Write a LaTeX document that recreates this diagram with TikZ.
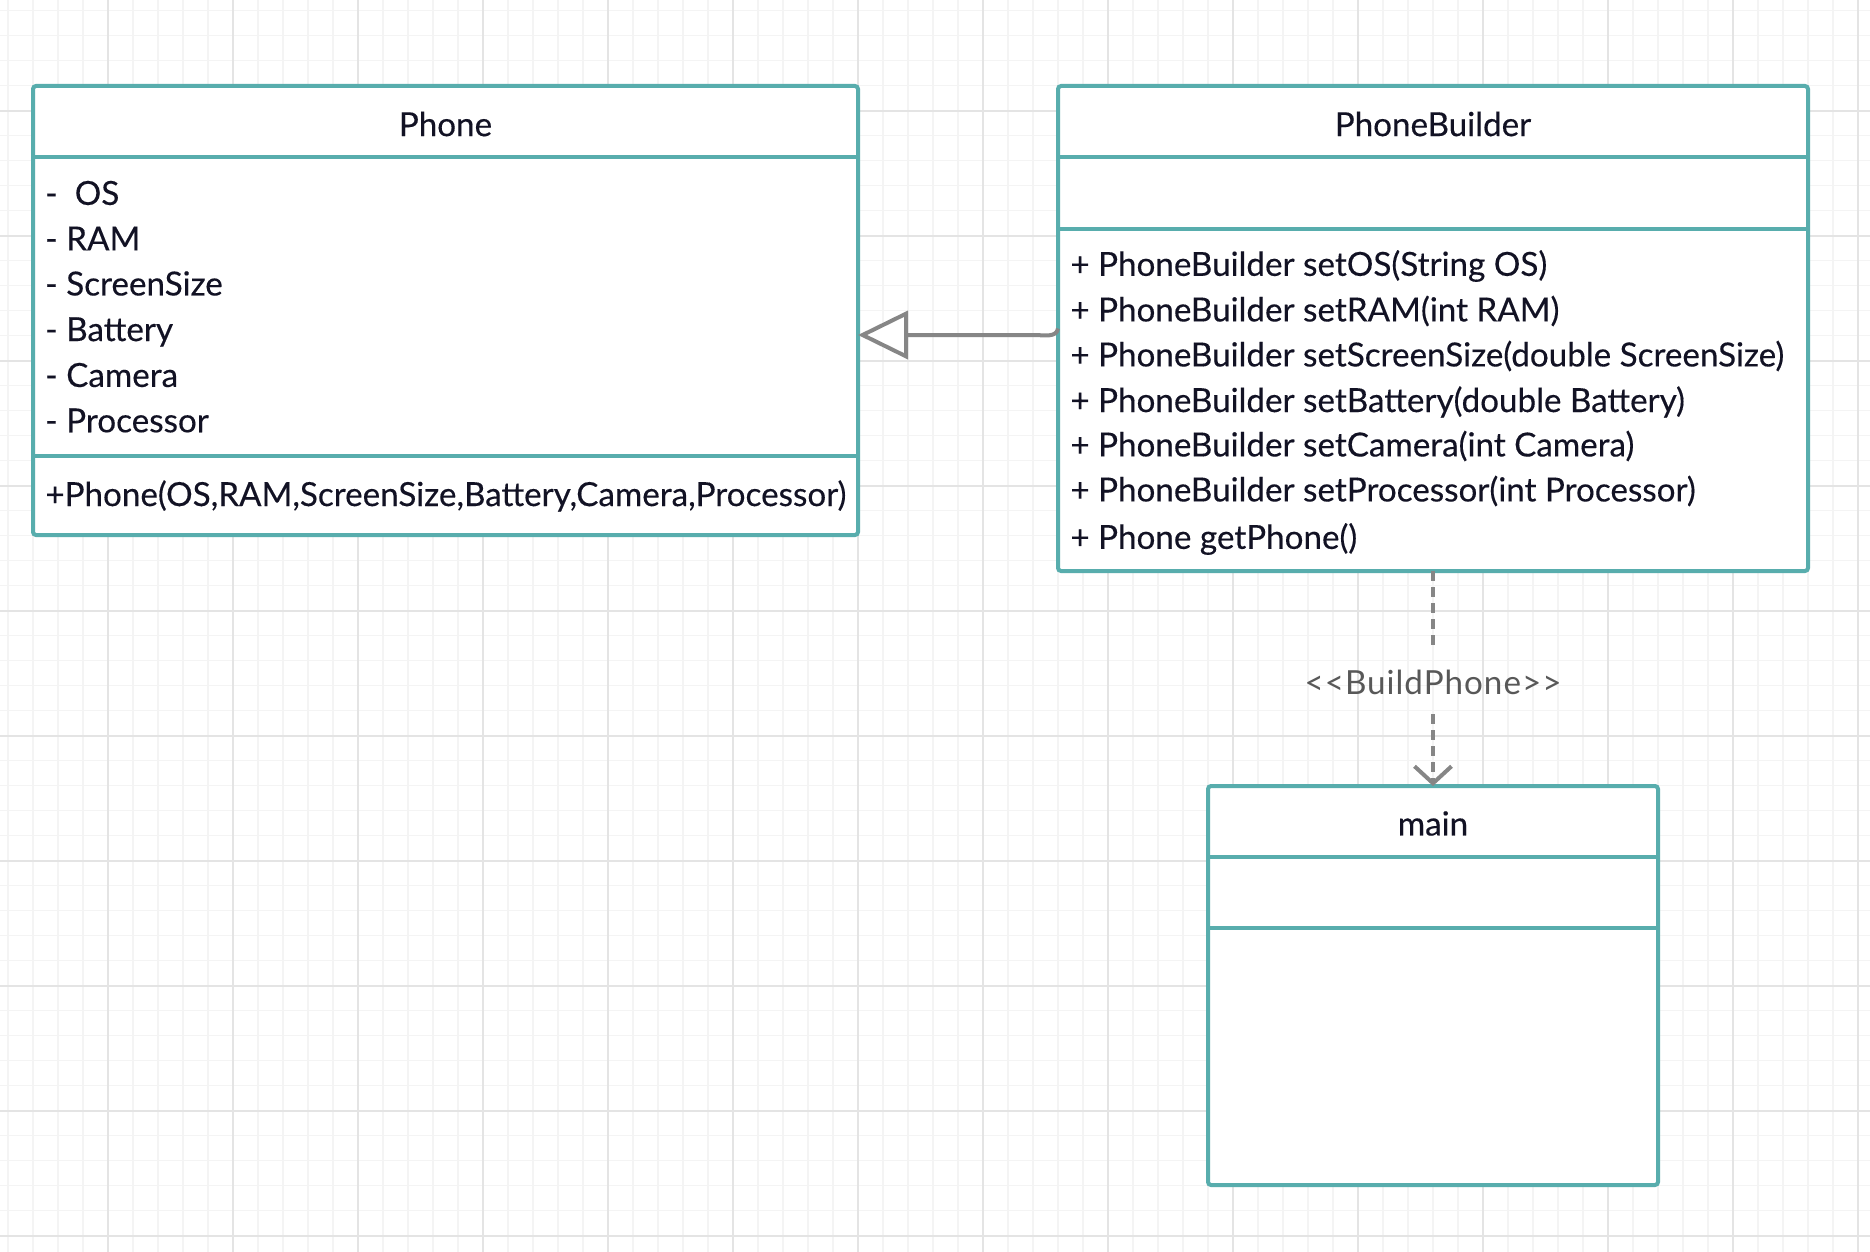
\documentclass[tikz,border=0pt]{standalone}
\usepackage{fontspec}
\setmainfont{Lato}[FakeBold=0.3]
\newfontfamily\stereofont{Lato}[LetterSpace=3]
\usetikzlibrary{arrows.meta}
\definecolor{umlteal}{RGB}{88,173,173}
\definecolor{umltext}{RGB}{18,18,36}
\definecolor{linkgray}{RGB}{134,134,134}
\definecolor{labelgray}{RGB}{88,88,88}
\definecolor{gridminor}{RGB}{244,244,244}
\definecolor{gridmajor}{RGB}{228,228,228}
\tikzset{
  umlbox/.style={draw=umlteal,line width=2pt,rounded corners=1.5pt,fill=white,
    anchor=north west,inner sep=0pt,outer sep=0pt},
  divider/.style={umlteal,line width=2pt},
  member/.style={anchor=west,inner sep=0pt,text=umltext,font=\fontsize{16.6}{20}\selectfont},
  umltitle/.style={inner sep=0pt,text=umltext,font=\fontsize{16.6}{20}\selectfont},
}
\begin{document}
\begin{tikzpicture}[x=0.5pt,y=-0.5pt]
    \useasboundingbox (0,0) rectangle (1870,1252);
    % background grid
    \begin{scope}
    \clip (0,0) rectangle (1870,1252);
    \fill[white] (0,0) rectangle (1870,1252);
    \draw[gridminor,line width=0.75pt,xshift=4pt,yshift=-5.3pt,step=12.5pt] (-20pt,-650pt) grid (950pt,20pt);
    \draw[gridmajor,line width=1pt,xshift=53.85pt,yshift=-55.3pt,step=62.5pt] (-80pt,-700pt) grid (950pt,80pt);
    \end{scope}

    % class boxes
    \node[umlbox,minimum width=412.5pt,minimum height=224.5pt] (phone) at (33,86) {};
    \node[umlbox,minimum width=375pt,minimum height=242.5pt] (builder) at (1058,86) {};
    \node[umlbox,minimum width=225pt,minimum height=199.5pt] (main) at (1208,786) {};

    \draw[divider] (33,157) -- (858,157);
    \draw[divider] (33,456) -- (858,456);
    \draw[divider] (1058,157) -- (1808,157);
    \draw[divider] (1058,229) -- (1808,229);
    \draw[divider] (1208,857) -- (1658,857);
    \draw[divider] (1208,928) -- (1658,928);

    % titles
    \node[umltitle] (phonename) at (445.5,124) {Phone};
    \node[umltitle] (buildername) at (1433,124) {PhoneBuilder};
    \node[umltitle] (mainname) at (1433,823.5) {main};

    % Phone members
    \node[member] (attos) at (45,193) {-~ OS};
    \node[member] (attram) at (45,238.5) {- RAM};
    \node[member] (attscreen) at (45,283.5) {- ScreenSize};
    \node[member] (attbattery) at (45,332) {- Battery};
    \node[member] (attcamera) at (45,375) {- Camera};
    \node[member] (attproc) at (45,420.5) {- Processor};
    \node[member] (phonector) at (45,496) {+Phone(OS,RAM,ScreenSize,Battery,Camera,Processor)};

    % PhoneBuilder members
    \node[member] (setos) at (1070,266) {+ PhoneBuilder setOS(String OS)};
    \node[member] (setram) at (1070,311) {+ PhoneBuilder setRAM(int RAM)};
    \node[member] (setscreen) at (1070,356) {+ PhoneBuilder setScreenSize(double ScreenSize)};
    \node[member] (setbattery) at (1070,402) {+ PhoneBuilder setBattery(double Battery)};
    \node[member] (setcamera) at (1070,446) {+ PhoneBuilder setCamera(int Camera)};
    \node[member] (setproc) at (1070,491) {+ PhoneBuilder setProcessor(int Processor)};
    \node[member] (getphone) at (1070,539) {+ Phone getPhone()};

    % inheritance
    \draw[linkgray,line width=2pt,-{Triangle[fill=white,length=25pt,width=24pt]}]
        (builder.west) to[out=-100,in=0] (1034,335) -- (phone.east |- 0,335);

    % dependency
    \node[text=labelgray,font=\stereofont\fontsize{16.6}{20}\selectfont,minimum height=32pt,inner sep=0pt] (buildlabel) at (1433,682) {{<}{<}BuildPhone{>}{>}};
    \draw[linkgray,line width=2pt,dash pattern=on 5pt off 3pt] (builder.south) -- (buildlabel.north);
    \draw[linkgray,line width=2pt,dash pattern=on 5pt off 3pt,-{Straight Barb[length=8.5pt,width=18.5pt]}] (buildlabel.south) -- (main.north);
\end{tikzpicture}
\end{document}
